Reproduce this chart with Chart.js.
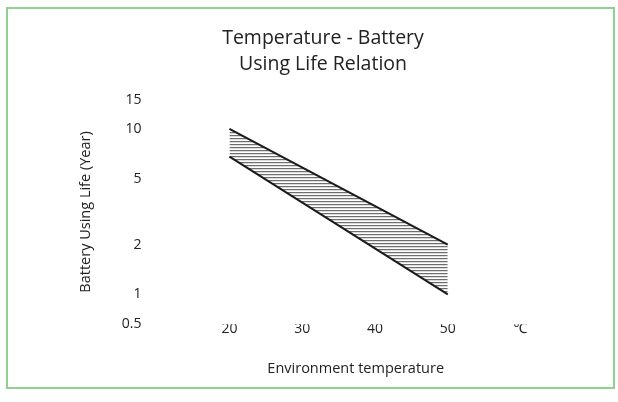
<!DOCTYPE html>
<html>
<head>
<meta charset="utf-8">
<script src="https://cdn.jsdelivr.net/npm/chart.js@4"></script>
<style>
  html, body { margin: 0; padding: 0; background: #fff; }
  .wrap { position: relative; width: 618px; height: 402px; }
  .frame {
    position: absolute; left: 6px; top: 7px; width: 609px; height: 382px;
    box-sizing: border-box; border: 2px solid #8fd28f; pointer-events: none;
  }
</style>
</head>
<body>
<div class="wrap">
  <canvas id="lifeChart"></canvas>
  <div class="frame"></div>
</div>
<script>
// --- DATA ---
const temps = [20, 50];
const upperLife = [10, 2];
const lowerLife = [6.8, 1];

const xTickValues = [20, 30, 40, 50, 60];
const xTickLabels = ['20', '30', '40', '50', '℃'];
// the bottom label of the original sits at the foot of the axis
const yTickValues = [0.66, 1, 2, 5, 10, 15];
const yTickLabels = ['0.5', '1', '2', '5', '10', '15'];

const FONT = '"Open Sans", "Noto Sans", sans-serif';
const TEXT = '#222';

// horizontal hatch for the band
const makeHatch = () => {
    const c = document.createElement('canvas');
    c.width = 4;
    c.height = 3;
    const g = c.getContext('2d');
    g.fillStyle = '#ffffff';
    g.fillRect(0, 0, 4, 3);
    g.fillStyle = '#dcdcdc';
    g.fillRect(0, 1, 4, 1);
    g.fillStyle = '#6e6e6e';
    g.fillRect(0, 0, 4, 1);
    return g.createPattern(c, 'repeat');
};

const toPoints = (ys) => temps.map((t, i) => ({ x: t, y: ys[i] }));
const labelFor = (values, labels) => (v) => {
    const i = values.findIndex(t => Math.abs(t - v) < 1e-6);
    return i >= 0 ? labels[i] : '';
};

new Chart(document.getElementById('lifeChart'), {
    type: 'line',
    data: {
        datasets: [
            {
                label: 'Upper',
                data: toPoints(upperLife),
                borderColor: '#1a1a1a',
                borderWidth: 2,
                pointRadius: 0,
                fill: false
            },
            {
                label: 'Lower',
                data: toPoints(lowerLife),
                borderColor: '#1a1a1a',
                borderWidth: 2,
                pointRadius: 0,
                fill: '-1',
                backgroundColor: makeHatch()
            }
        ]
    },
    options: {
        responsive: true,
        maintainAspectRatio: false,
        animation: false,
        layout: { padding: { top: 25, left: 84, right: 56, bottom: 24.3 } },
        plugins: {
            legend: { display: false },
            tooltip: { enabled: false },
            title: {
                display: true,
                text: ['Temperature - Battery', 'Using Life Relation'],
                color: TEXT,
                font: { family: FONT, size: 19.5, weight: '500', lineHeight: 1.35 },
                padding: { top: 0, bottom: 22 }
            }
        },
        scales: {
            x: {
                type: 'linear',
                min: 9,
                max: 65.7,
                bounds: 'data',
                grid: { display: false, drawTicks: false },
                border: { display: false },
                afterBuildTicks: (axis) => { axis.ticks = xTickValues.map(v => ({ value: v })); },
                ticks: {
                    autoSkip: false,
                    maxRotation: 0,
                    padding: -4,
                    color: TEXT,
                    font: { family: FONT, size: 14 },
                    callback: labelFor(xTickValues, xTickLabels)
                },
                title: {
                    display: true,
                    text: 'Environment temperature',
                    color: TEXT,
                    font: { family: FONT, size: 14.5 },
                    padding: { top: 27.2, bottom: 0 }
                }
            },
            y: {
                type: 'logarithmic',
                min: 0.66,
                max: 15,
                bounds: 'data',
                grid: { display: false, drawTicks: false },
                border: { display: false },
                afterBuildTicks: (axis) => { axis.ticks = yTickValues.map(v => ({ value: v })); },
                ticks: {
                    autoSkip: false,
                    padding: 8,
                    color: TEXT,
                    font: { family: FONT, size: 14 },
                    callback: labelFor(yTickValues, yTickLabels)
                },
                title: {
                    display: true,
                    text: 'Battery Using Life (Year)',
                    color: TEXT,
                    font: { family: FONT, size: 14.5 },
                    padding: { top: -6.7, bottom: 19 }
                }
            }
        }
    }
});
</script>
</body>
</html>
